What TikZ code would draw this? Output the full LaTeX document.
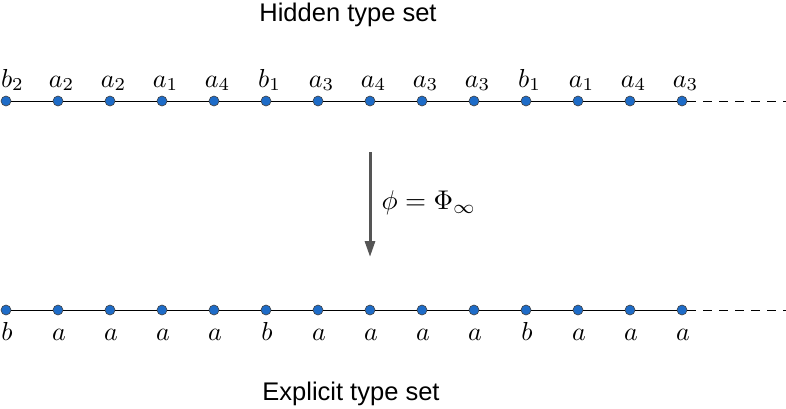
\documentclass[tikz,border=0pt]{standalone}
\usepackage{fontspec}
\setsansfont{Liberation Sans}
\usetikzlibrary{arrows.meta}
\definecolor{dotblue}{RGB}{30,108,200}
\definecolor{arrgray}{RGB}{85,85,85}
\tikzset{
  pt/.style={circle,fill=dotblue,draw=black!75,line width=0.6pt,inner sep=0pt,minimum size=10pt},
  seg/.style={line width=0.9pt,black},
  dsh/.style={line width=0.9pt,black,dash pattern=on 9pt off 7pt},
  lab/.style={font=\fontsize{10}{12}\selectfont,inner sep=0pt,scale=2.6,transform shape},
  ttl/.style={font=\sffamily\fontsize{25.5}{30}\selectfont,inner sep=0pt},
  maparrow/.style={arrgray,line width=3pt,-{Triangle[length=16pt,width=10pt]}}
}
\begin{document}
\begin{tikzpicture}[x=1pt,y=-1pt]
\useasboundingbox (0,0) rectangle (786,408);
\node[ttl,anchor=base] (ht) at (348,21) {Hidden type set};
\node[ttl,anchor=base] (et) at (351,400) {Explicit type set};
% top row
\foreach \i in {0,...,13}{
  \node[pt] (t\i) at (6+52*\i,101) {};
}
\node[lab,anchor=base] (tl0) at (12.5,87) {$b_2$};
\foreach \i/\l in {1/a_2,2/a_2,3/a_1,4/a_4,5/b_1,6/a_3,7/a_4,8/a_3,9/a_3,10/b_1,11/a_1,12/a_4,13/a_3}{
  \node[lab,anchor=base] (tl\i) at (9.5+52*\i,87) {$\l$};
}
% bottom row
\foreach \i/\l in {0/b,1/a,2/a,3/a,4/a,5/b,6/a,7/a,8/a,9/a,10/b,11/a,12/a,13/a}{
  \node[pt] (b\i) at (6+52*\i,310) {};
  \node[lab,anchor=base] (bl\i) at (7+52*\i,340) {$\l$};
}
\coordinate (tend) at (786,101);
\coordinate (bend) at (786,310);
\foreach \i [evaluate=\i as \j using int(\i+1)] in {0,...,12}{
  \draw[seg] (t\i) -- (t\j);
  \draw[seg] (b\i) -- (b\j);
}
\draw[dsh] (t13) -- (tend);
\draw[dsh] (b13) -- (bend);
\coordinate (as) at (370,152);
\coordinate (ae) at (370,257);
\draw[maparrow] (as) -- (ae);
\node[lab,anchor=base west,scale=1.04] (phi) at (381,209) {$\phi = \Phi_\infty$};
\end{tikzpicture}
\end{document}
